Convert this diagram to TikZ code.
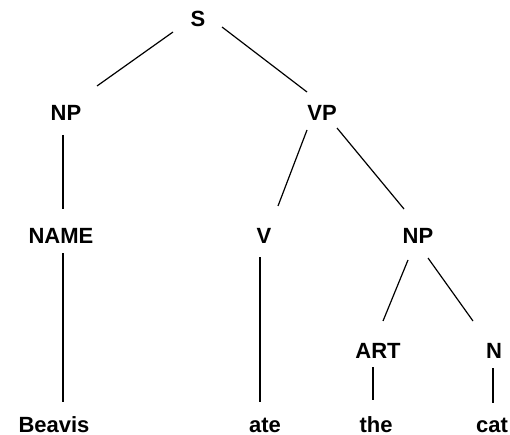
\documentclass[tikz,border=0pt]{standalone}
\usepackage{fontspec}
\setmainfont{Liberation Sans}
\begin{document}
\begin{tikzpicture}[x=1pt,y=-1pt,
  lbl/.style={font=\fontsize{22}{26}\selectfont\bfseries, inner sep=0pt, text height=16pt, text depth=0pt},
  edge/.style={line width=1.2pt, black}]
\useasboundingbox (0,0) rectangle (510,435);
\node[lbl] (S) at (198,19) {S};
\node[lbl] (NPa) at (66,113) {NP};
\node[lbl] (VP) at (322,113) {VP};
\node[lbl] (NAME) at (61,235) {NAME};
\node[lbl] (V) at (264,235) {V};
\node[lbl] (NPb) at (418,235) {NP};
\node[lbl] (ART) at (378,350) {ART};
\node[lbl] (N) at (494,350) {N};
\node[lbl] (Beavis) at (54,424) {Beavis};
\node[lbl] (ate) at (265,424) {ate};
\node[lbl] (the) at (376,424) {the};
\node[lbl] (cat) at (492,424) {cat};
\draw[edge] ([shift={(-25,13)}]S.center) -- ([shift={(31,-27)}]NPa.center);
\draw[edge] ([shift={(24,8)}]S.center) -- ([shift={(-15,-21)}]VP.center);
\draw[edge] ([shift={(-15,17)}]VP.center) -- ([shift={(14,-29)}]V.center);
\draw[edge] ([shift={(15,15)}]VP.center) -- ([shift={(-14,-26)}]NPb.center);
\draw[edge] ([shift={(-3,22)}]NPa.center) -- ([shift={(2,-26)}]NAME.center);
\draw[edge] ([shift={(2,18)}]NAME.center) -- ([shift={(9,-22)}]Beavis.center);
\draw[edge] ([shift={(-4,22)}]V.center) -- ([shift={(-5,-22)}]ate.center);
\draw[edge] ([shift={(-10,25)}]NPb.center) -- ([shift={(5,-29)}]ART.center);
\draw[edge] ([shift={(10,23)}]NPb.center) -- ([shift={(-21,-29)}]N.center);
\draw[edge] ([shift={(-5,17)}]ART.center) -- ([shift={(-3,-24)}]the.center);
\draw[edge] ([shift={(-1,18)}]N.center) -- ([shift={(1,-21)}]cat.center);
\end{tikzpicture}
\end{document}
